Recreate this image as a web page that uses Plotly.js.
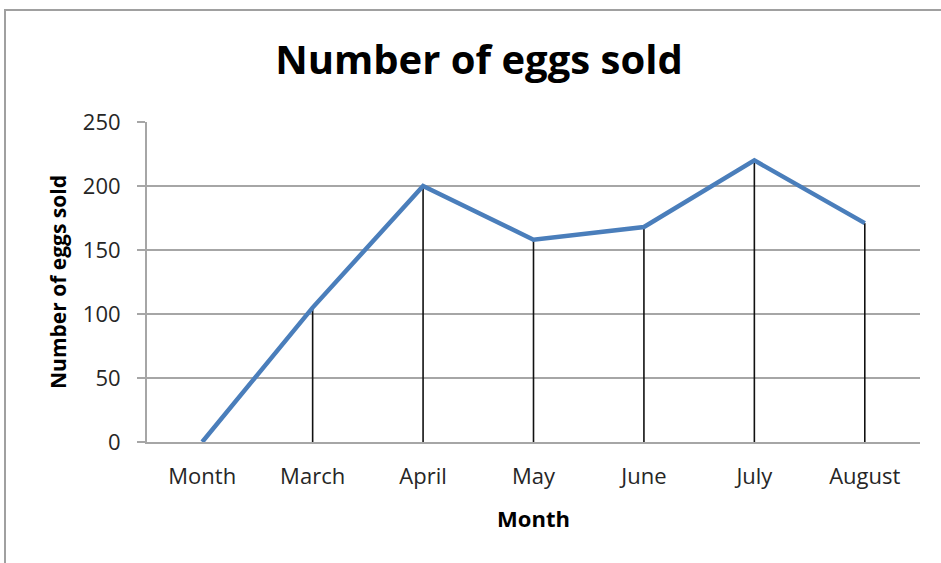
<!DOCTYPE html>
<html>
<head>
<meta charset="utf-8">
<script src="https://cdn.plot.ly/plotly-3.0.1.min.js"></script>
<style>
html,body{margin:0;padding:0;background:#fff;}
#chart{width:941px;height:563px;}
</style>
</head>
<body>
<div id="chart"></div>
<script>
const months = ["Month", "March", "April", "May", "June", "July", "August"];
const eggsSold = [0, 105, 200, 158, 168, 220, 171];
const yTickValues = [0, 50, 100, 150, 200, 250];

const L = 147, R = 21, T = 122, B = 121;
const plotW = 941 - L - R, plotH = 563 - T - B;
const px = v => (v - L) / plotW;
const py = v => (563 - B - v) / plotH;

const dropLines = {
  x: months,
  y: eggsSold,
  type: 'scatter',
  mode: 'markers',
  marker: {size: 1, color: 'rgba(0,0,0,0)'},
  error_y: {
    type: 'data',
    symmetric: false,
    array: eggsSold.map(() => 0),
    arrayminus: eggsSold,
    color: '#111111',
    thickness: 1.6,
    width: 0
  },
  hoverinfo: 'skip',
  showlegend: false
};

const eggLine = {
  x: months,
  y: eggsSold,
  type: 'scatter',
  mode: 'lines',
  line: {color: '#4a7ebb', width: 4.5},
  showlegend: false
};

const layout = {
  width: 941,
  height: 563,
  margin: {l: L, r: R, t: T, b: B, pad: 0},
  paper_bgcolor: '#ffffff',
  plot_bgcolor: '#ffffff',
  showlegend: false,
  title: {
    text: '<b>Number of eggs sold</b>',
    font: {family: 'Open Sans, sans-serif', size: 40, color: '#000000'},
    x: 0.509, xref: 'container', xanchor: 'center',
    y: 0.893, yref: 'container', yanchor: 'middle'
  },
  xaxis: {
    type: 'category',
    range: [-0.5, months.length - 0.5],
    showgrid: false,
    showline: true,
    linecolor: '#a6a6a6',
    linewidth: 2,
    ticks: '',
    zeroline: false,
    tickfont: {family: 'Open Sans, sans-serif', size: 22, color: '#262626'},
    ticklabelstandoff: 14,
    title: {
      text: '<b>Month</b>',
      font: {family: 'Open Sans, sans-serif', size: 22, color: '#000000'},
      standoff: 22
    },
    automargin: false
  },
  yaxis: {
    range: [0, 250],
    tickvals: yTickValues,
    showgrid: true,
    gridcolor: '#a6a6a6',
    gridwidth: 2,
    showline: true,
    linecolor: '#a6a6a6',
    linewidth: 2,
    ticks: 'outside',
    ticklen: 8,
    tickwidth: 2,
    tickcolor: '#a6a6a6',
    zeroline: false,
    tickfont: {family: 'Open Sans, sans-serif', size: 22, color: '#262626'},
    ticklabelstandoff: 12,
    title: {
      text: '<b>Number of eggs sold</b>',
      font: {family: 'Open Sans, sans-serif', size: 21, color: '#000000'},
      standoff: 10
    },
    automargin: false
  },
  shapes: [
    {type: 'line', xref: 'paper', yref: 'paper', x0: px(4), x1: px(960), y0: py(10), y1: py(10),
     line: {color: '#a0a0a0', width: 2}},
    {type: 'line', xref: 'paper', yref: 'paper', x0: px(5), x1: px(5), y0: py(10), y1: py(580),
     line: {color: '#a0a0a0', width: 2}}
  ]
};

Plotly.newPlot('chart', [dropLines, eggLine], layout, {displayModeBar: false, staticPlot: true});
</script>
</body>
</html>
